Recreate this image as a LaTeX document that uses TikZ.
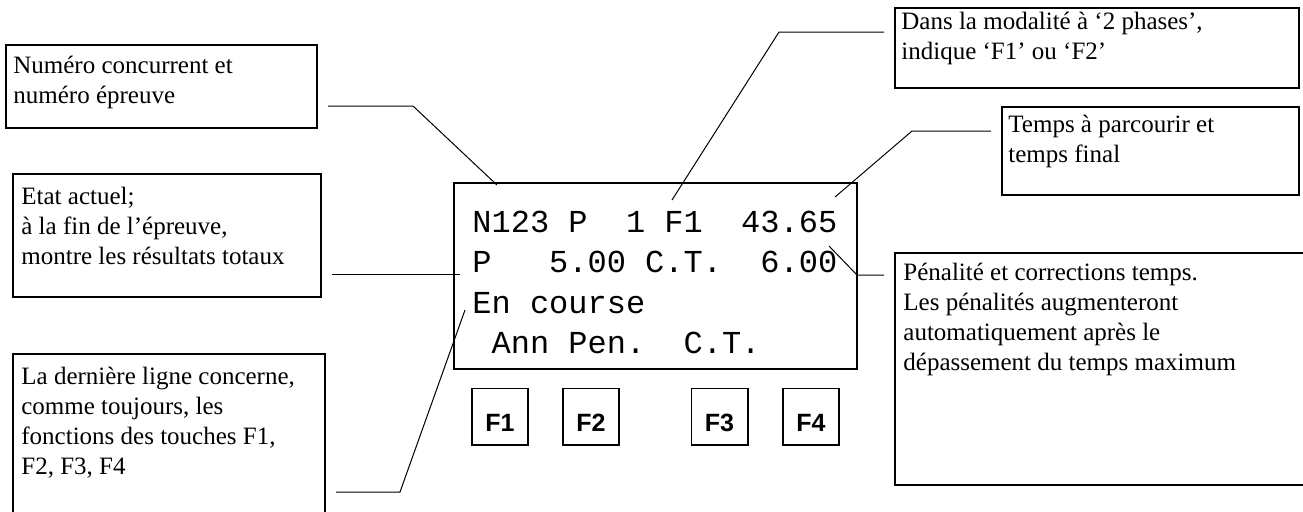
\documentclass[tikz,border=0pt]{standalone}
\usepackage{fontspec}
\setmainfont{Liberation Serif}
\setsansfont{Liberation Sans}
\setmonofont{Liberation Mono}
\usetikzlibrary{fit}

\tikzset{
  callbox/.style={draw, line width=1pt, inner sep=0pt},
  calltxt/.style={anchor=base west, align=left, inner sep=0pt,
    font=\fontsize{12.5}{15}\selectfont},
  lead/.style={line width=0.5pt, shorten <=5pt},
  disptxt/.style={anchor=base west, inner sep=0pt,
    font=\ttfamily\frenchspacing\fontsize{16}{20}\selectfont},
  keybox/.style={draw, line width=0.8pt, minimum size=28.2pt, inner sep=0pt,
    text height=14.5pt, text depth=0pt,
    font=\sffamily\bfseries\fontsize{12.5}{15}\selectfont},
}

\begin{document}
\begin{tikzpicture}[x=0.5pt, y=-0.5pt]
  % page
  \useasboundingbox (0,0) rectangle (1303,511);
  \clip (0,0) rectangle (1303,511);

  % display
  \node[callbox, fit={(454,183) (857,369)}] (ecran) {};
  \node[disptxt] (ligne1) at (472,232) {N123~P~~1~F1~~43.65};
  \node[disptxt] (ligne2) at (472,272) {P~~~5.00~C.T.~~6.00};
  \node[disptxt] (ligne3) at (472,313) {En~course};
  \node[disptxt] (ligne4) at (472,353) {~Ann~Pen.~~C.T.};

  % keys
  \node[keybox] (f1) at (500,416.5) {F1};
  \node[keybox] (f2) at (591,416.5) {F2};
  \node[keybox] (f3) at (719.5,416.5) {F3};
  \node[keybox] (f4) at (811,416.5) {F4};

  % left boxes (text placed at the baseline of its last line)
  \node[callbox, fit={(6,45) (317,128)}] (numbox) {};
  \node[calltxt] (numtxt) at (13,103) {Numéro concurrent et\\numéro épreuve};
  \node[callbox, fit={(13,174) (321,297)}] (etatbox) {};
  \node[calltxt] (etattxt) at (21,264) {Etat actuel;\\à la fin de l’épreuve,\\montre les résultats totaux};
  \node[callbox, fit={(13,354) (325,540)}] (dernbox) {};
  \node[calltxt] (derntxt) at (21,474) {La dernière ligne concerne,\\comme toujours, les\\fonctions des touches F1,\\F2, F3, F4};

  % right boxes
  \node[callbox, fit={(895,8) (1299,88)}] (phasebox) {};
  \node[calltxt] (phasetxt) at (901,59) {Dans la modalité à ‘2 phases’,\\indique ‘F1’ ou ‘F2’};
  \node[callbox, fit={(1002,107) (1299,195)}] (tempsbox) {};
  \node[calltxt] (tempstxt) at (1008,162) {Temps à parcourir et\\temps final};
  \node[callbox, fit={(895,253) (1320,485)}] (penbox) {};
  \node[calltxt] (pentxt) at (903,370) {Pénalité et corrections temps.\\Les pénalités augmenteront\\automatiquement après le\\dépassement du temps maximum};

  % leader points
  \coordinate (kA) at (413,106);
  \coordinate (tA) at (497,185);
  \coordinate (tB) at (460,274);
  \coordinate (kC) at (400,492);
  \coordinate (tC) at (465,310);
  \coordinate (kD) at (779,32);
  \coordinate (tD) at (672,200);
  \coordinate (kE) at (912,131);
  \coordinate (tE) at (835,197);
  \coordinate (kF) at (857,275);
  \coordinate (tF) at (829,246);

  % leaders
  \draw[lead] (numbox.east |- kA) -- (kA) -- (tA);
  \draw[lead] (etatbox.east |- tB) -- (tB);
  \draw[lead] (dernbox.east |- kC) -- (kC) -- (tC);
  \draw[lead] (phasebox.west |- kD) -- (kD) -- (tD);
  \draw[lead] (tempsbox.west |- kE) -- (kE) -- (tE);
  \draw[lead] (penbox.west |- kF) -- (kF) -- (tF);
\end{tikzpicture}
\end{document}
